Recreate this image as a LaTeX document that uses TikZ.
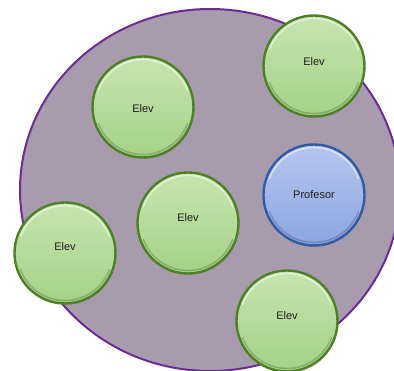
\documentclass[tikz,border=0pt]{standalone}
\usepackage{fontspec}
\setmainfont{Liberation Sans}
\usetikzlibrary{shadows}
\definecolor{bigfill}{RGB}{168,155,174}
\definecolor{bigline}{RGB}{108,44,148}
\definecolor{gtop}{RGB}{200,228,176}
\definecolor{gbot}{RGB}{164,210,134}
\definecolor{gline}{RGB}{78,128,38}
\definecolor{btop}{RGB}{184,198,240}
\definecolor{bbot}{RGB}{140,165,225}
\definecolor{bline}{RGB}{48,92,162}
\definecolor{txt}{RGB}{30,30,30}
\tikzset{
  ball/.style={circle, minimum size=101pt, inner sep=0pt, line width=2.4pt,
    font=\fontsize{11}{13}\selectfont, text=txt, text height=8pt, text depth=10pt,
    drop shadow={opacity=0.25, shadow xshift=0.8pt, shadow yshift=-1.5pt},
    path picture={
      \draw[white, opacity=0.55, line width=1.4pt]
        ([shift={(160:47.5pt)}]path picture bounding box.center) arc (160:20:47.5pt);
      \draw[black, opacity=0.18, line width=1.6pt]
        ([shift={(200:47.5pt)}]path picture bounding box.center) arc (200:340:47.5pt);
    }},
  elev/.style={ball, draw=gline, top color=gtop, bottom color=gbot},
  prof/.style={ball, draw=bline, top color=btop, bottom color=bbot},
}
\begin{document}
\begin{tikzpicture}[x=1pt,y=-1pt]
\useasboundingbox (0,0) rectangle (394,371);
\begin{scope}
\clip (0,0) rectangle (394,371);
\path[fill=bigfill, draw=bigline, line width=2pt] (210,190) ellipse [x radius=190, y radius=181];
\end{scope}
\node[elev, text depth=8pt] (e1) at (314,66) {Elev};
\node[elev, text height=12pt, text depth=0pt] (e2) at (143,107) {Elev};
\node[prof, text depth=0pt] (p) at (314,195) {Profesor};
\node[elev] (e3) at (188,223) {Elev};
\node[elev, text depth=12pt] (e4) at (65,253) {Elev};
\node[elev] (e5) at (287,321) {Elev};
\end{tikzpicture}
\end{document}
